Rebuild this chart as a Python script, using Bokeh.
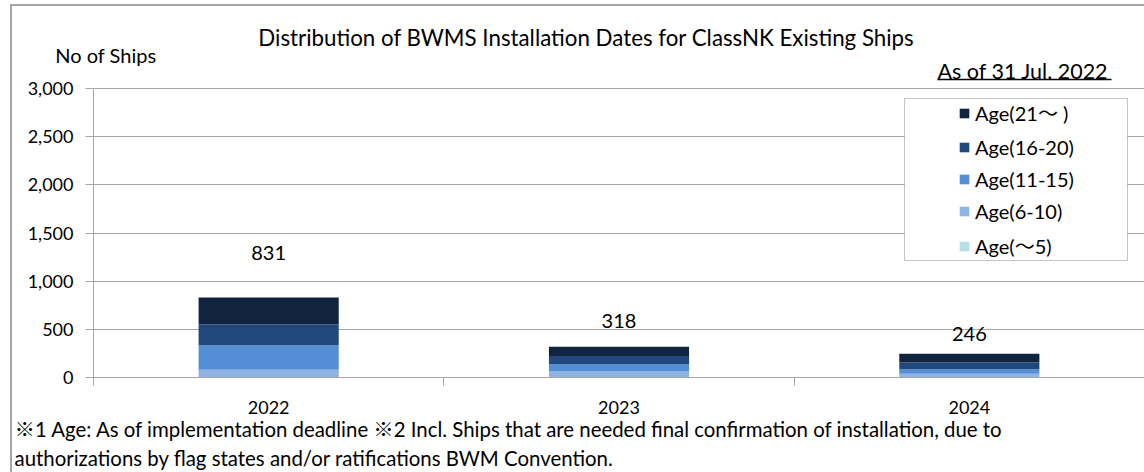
from bokeh.plotting import figure
from bokeh.models import (Range1d, FixedTicker, NumeralTickFormatter, Label, Legend,
                          LegendItem, BoxAnnotation, ColumnDataSource, Title, LinearAxis)
from bokeh.core.properties import value
from bokeh.embed import file_html
from bokeh.resources import INLINE

# ---- data ----
years = ["2022", "2023", "2024"]
age_0_5 = [4, 2, 2]
age_6_10 = [76, 60, 37]
age_11_15 = [256, 77, 46]
age_16_20 = [215, 83, 71]
age_21_up = [280, 96, 90]
totals = [831, 318, 246]
series_names = ["Age(～5)", "Age(6-10)", "Age(11-15)", "Age(16-20)", "Age(21～ )"]
series_colors = ["#B7DEE8", "#8DB4E2", "#558ED5", "#1F497D", "#10243F"]
y_ticks = [0, 500, 1000, 1500, 2000, 2500, 3000]
total_label_offsets = [-44, -26, -20]

title_text = "Distribution of BWMS Installation Dates for ClassNK Existing Ships"
y_title = "No of Ships"
as_of_text = "As of 31 Jul. 2022"
note_1 = ("※1 Age: As of implementation deadline ※2 Incl. Ships that are needed final "
          "confirmation of installation, due to")
note_2 = "authorizations by flag states and/or ratifications BWM Convention."

FONT = "Lato"
CJK_FONT = "Lato, 'Noto Sans CJK JP'"
W, H = 1144, 472
FL = 93            # frame left (px)
Y0_PX, Y3000_PX = 377, 88   # pixel rows of 0 and 3,000
YMAX = 3000
GRAY = "#a6a6a6"
PX_PER_UNIT = (Y0_PX - Y3000_PX) / YMAX


def dx(px):
    return (px - FL) / (W - FL) * len(years)


def dy(py):
    return (Y0_PX - py) / PX_PER_UNIT


xs = [i + 0.5 for i in range(len(years))]
src = ColumnDataSource(dict(x=xs, a=age_0_5, b=age_6_10, c=age_11_15, d=age_16_20,
                            e=age_21_up, tot=totals, lab=[f"{t}" for t in totals],
                            yoff=total_label_offsets))

# frame spans from the top of the canvas down to the zero line
p = figure(width=W, height=H, output_backend="svg", toolbar_location=None,
           x_range=Range1d(0, len(years)), y_range=Range1d(0, dy(0)),
           min_border_left=FL, min_border_right=0, min_border_top=0,
           min_border_bottom=H - Y0_PX)
p.outline_line_color = None
p.border_fill_color = None
p.background_fill_color = None
p.styles = {"background": ("linear-gradient(#a6a6a6,#a6a6a6) 10px 4px / 2px 468px no-repeat, "
                           "linear-gradient(#a6a6a6,#a6a6a6) 10px 4px / 1134px 2px no-repeat, white")}

rs = p.vbar_stack(["a", "b", "c", "d", "e"], x="x", width=0.4, source=src,
                  color=series_colors, line_color=None)

p.text(x="x", y="tot", text="lab", y_offset="yoff", source=src, text_align="center",
       text_baseline="middle", text_font=value(FONT), text_font_size="20px",
       text_color="black")

p.xgrid.visible = False
p.ygrid.grid_line_color = GRAY
p.ygrid.grid_line_width = 1
p.ygrid.ticker = FixedTicker(ticks=y_ticks)

p.yaxis.ticker = FixedTicker(ticks=y_ticks)
p.yaxis.bounds = (0, YMAX)
p.yaxis.formatter = NumeralTickFormatter(format="0,0")
p.yaxis.axis_line_color = GRAY
p.yaxis.major_tick_line_color = GRAY
p.yaxis.major_tick_out = 8
p.yaxis.major_tick_in = 0
p.yaxis.minor_tick_line_color = None
p.yaxis.major_label_standoff = 12
p.yaxis.major_label_text_font = FONT
p.yaxis.major_label_text_font_size = "18px"
p.yaxis.major_label_text_color = "black"

# "No of Ships": an extra left axis carrying one label
name_tick = round(dy(54.5), 3)
ax2 = LinearAxis(ticker=FixedTicker(ticks=[name_tick]),
                 major_label_overrides={name_tick: y_title},
                 axis_line_color=None, major_tick_line_color=None,
                 minor_tick_line_color=None, major_tick_out=0, major_tick_in=0,
                 major_label_standoff=-132, major_label_text_font=FONT,
                 major_label_text_font_size="20px", major_label_text_color="black")
p.add_layout(ax2, "left")

p.xaxis.ticker = FixedTicker(ticks=xs, minor_ticks=list(range(len(years) + 1)))
p.xaxis.major_label_overrides = {x: y for x, y in zip(xs, years)}
p.xaxis.axis_line_color = GRAY
p.xaxis.major_tick_line_color = None
p.xaxis.major_tick_out = 0
p.xaxis.major_tick_in = 0
p.xaxis.minor_tick_line_color = GRAY
p.xaxis.minor_tick_out = 8
p.xaxis.minor_tick_in = 0
p.xaxis.major_label_standoff = 15
p.xaxis.major_label_text_font = FONT
p.xaxis.major_label_text_font_size = "18px"
p.xaxis.major_label_text_color = "black"

# footnotes below the axis
for txt, va, so in [(note_1, "top", 0), (note_2, "bottom", 3)]:
    p.add_layout(Title(text=txt, align="left", offset=14 - FL, standoff=so,
                       vertical_align=va, text_font=CJK_FONT, text_font_size="20.4px",
                       text_font_style="normal", text_color="black"), "below")

# header texts inside the (extended) frame
p.add_layout(Label(x=dx(586), y=dy(37), text=title_text, text_font=FONT,
                   text_font_size="22.3px", text_align="center", text_baseline="middle",
                   text_color="black"))
p.add_layout(Label(x=dx(937), y=dy(70.5), text=as_of_text, text_font=FONT,
                   text_font_size="21.5px", text_align="left", text_baseline="middle",
                   text_color="black"))
p.segment(x0=[dx(937)], y0=[dy(79)], x1=[dx(1111)], y1=[dy(79)], line_color="black",
          line_width=1.5)

box = BoxAnnotation(left=dx(904), right=dx(1127), top=dy(98), bottom=dy(260),
                    fill_color="white", fill_alpha=1, line_color="#404040", line_width=1)
p.add_layout(box)
items = [LegendItem(label=n, renderers=[r]) for n, r in zip(series_names, rs)][::-1]
leg = Legend(items=items, location=(865, 117), padding=0, margin=0, spacing=8,
             glyph_width=12, glyph_height=12, label_height=20, label_standoff=5,
             label_text_font=CJK_FONT, label_text_font_size="20px", label_text_color="black",
             border_line_color=None, background_fill_alpha=0)
p.add_layout(leg, "center")

open("out.html", "w").write(file_html(p, INLINE))
